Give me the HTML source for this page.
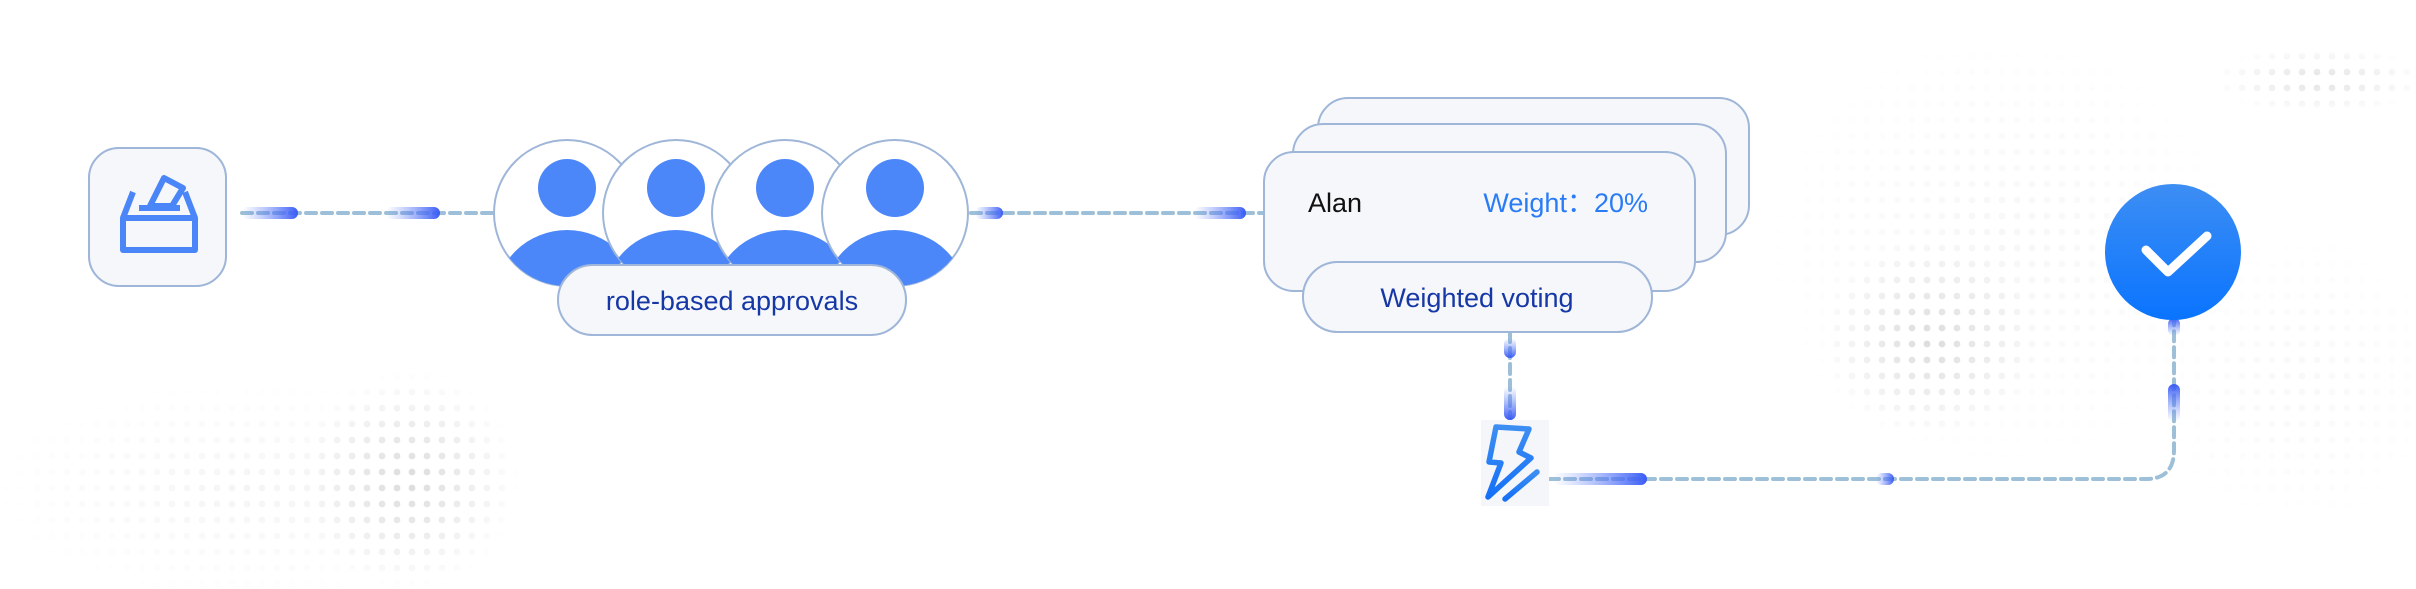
<!DOCTYPE html>
<html><head><meta charset="utf-8"><style>
html,body{margin:0;padding:0;background:#fff;}
svg{display:block}
text{font-family:"Liberation Sans",sans-serif}
</style></head><body>
<svg width="2416" height="589" viewBox="0 0 2416 589" xmlns="http://www.w3.org/2000/svg">
<defs>
<pattern id="dots" width="15" height="16" patternUnits="userSpaceOnUse"><circle cx="7" cy="8" r="3.4" fill="#dcdcdc"/></pattern>
<radialGradient id="fadeA"><stop offset="0" stop-color="#fff" stop-opacity="1"/><stop offset="0.5" stop-color="#fff" stop-opacity="0.5"/><stop offset="1" stop-color="#fff" stop-opacity="0"/></radialGradient>
<mask id="mA"><rect x="0" y="0" width="2416" height="589" fill="#000"/>
<ellipse cx="410" cy="480" rx="110" ry="110" fill="url(#fadeA)"/>
<ellipse cx="250" cy="490" rx="260" ry="110" fill="url(#fadeA)" opacity="0.3"/>
<ellipse cx="1930" cy="340" rx="110" ry="100" fill="url(#fadeA)"/>
<ellipse cx="2000" cy="250" rx="240" ry="220" fill="url(#fadeA)" opacity="0.25"/>
<ellipse cx="2320" cy="80" rx="110" ry="35" fill="url(#fadeA)" opacity="0.8"/>
<ellipse cx="2300" cy="380" rx="150" ry="150" fill="url(#fadeA)" opacity="0.2"/>
</mask>
<linearGradient id="pillR" x1="0" x2="1"><stop offset="0" stop-color="#6d8cf7" stop-opacity="0"/><stop offset="1" stop-color="#3a5cf6"/></linearGradient>
<linearGradient id="pillD" x1="0" x2="0" y1="0" y2="1"><stop offset="0" stop-color="#6d8cf7" stop-opacity="0"/><stop offset="1" stop-color="#3a5cf6"/></linearGradient>
<linearGradient id="pillU" x1="0" x2="0" y1="1" y2="0"><stop offset="0" stop-color="#6d8cf7" stop-opacity="0"/><stop offset="1" stop-color="#3a5cf6"/></linearGradient>
<linearGradient id="chk" x1="0" x2="0" y1="0" y2="1"><stop offset="0" stop-color="#3d8ef3"/><stop offset="1" stop-color="#0a74ff"/></linearGradient>
<linearGradient id="bolt" x1="0" x2="0" y1="0" y2="1"><stop offset="0" stop-color="#3d8ef3"/><stop offset="1" stop-color="#1570f7"/></linearGradient>
<filter id="glow" x="-30%" y="-30%" width="160%" height="170%"><feGaussianBlur in="SourceAlpha" stdDeviation="8"/><feOffset dy="6"/><feFlood flood-color="#5b86ff" flood-opacity="0.35"/><feComposite operator="in" in2="SourceAlpha"/><feMerge><feMergeNode/><feMergeNode in="SourceGraphic"/></feMerge></filter>
<clipPath id="c1"><circle cx="567" cy="213" r="73"/></clipPath>
<clipPath id="c2"><circle cx="676" cy="213" r="73"/></clipPath>
<clipPath id="c3"><circle cx="785" cy="213" r="73"/></clipPath>
<clipPath id="c4"><circle cx="895" cy="213" r="73"/></clipPath>
</defs>

<rect x="0" y="0" width="2416" height="589" fill="url(#dots)" mask="url(#mA)"/>

<!-- connectors -->
<g stroke="#9dc0d8" stroke-width="4" stroke-dasharray="10 6" fill="none" stroke-linecap="round">
<line x1="242" y1="213" x2="493" y2="213"/>
<line x1="971" y1="213" x2="1263" y2="213"/>
<line x1="1510" y1="332" x2="1510" y2="420"/>
<path d="M1549 479 H2146 Q2174 479 2174 450 V318"/>
</g>
<g>
<rect x="242" y="207" width="56" height="12" rx="6" fill="url(#pillR)"/>
<rect x="386" y="207" width="54" height="12" rx="6" fill="url(#pillR)"/>
<rect x="975" y="207" width="28" height="12" rx="6" fill="url(#pillR)"/>
<rect x="1194" y="207" width="52" height="12" rx="6" fill="url(#pillR)"/>
<rect x="1504" y="338" width="12" height="20" rx="6" fill="url(#pillD)"/>
<rect x="1504" y="386" width="12" height="34" rx="6" fill="url(#pillD)"/>
<rect x="1553" y="473" width="94" height="12" rx="6" fill="url(#pillR)"/>
<rect x="1876" y="473" width="18" height="12" rx="6" fill="url(#pillR)"/>
<rect x="2168" y="318" width="12" height="18" rx="6" fill="url(#pillU)"/>
<rect x="2168" y="384" width="12" height="38" rx="6" fill="url(#pillU)"/>
</g>

<!-- ballot box -->
<rect x="89" y="148" width="137" height="138" rx="30" fill="#f5f7fa" stroke="#9fb6d8" stroke-width="2" filter="url(#glow)"/>
<g fill="none" stroke="#4a86f7" stroke-width="6" stroke-linejoin="round">
<rect x="123" y="218" width="72" height="32"/>
<path d="M123 218 L133 192 M195 218 L185 192"/>
<path d="M150 206 L164 178 L183 188 L172 206 Z"/>
<line x1="139" y1="208" x2="180" y2="208"/>
</g>

<!-- people -->
<g>
<circle cx="567" cy="213" r="73" fill="#fff" stroke="#9fb6d8" stroke-width="2"/>
<g clip-path="url(#c1)"><circle cx="567" cy="188" r="29" fill="#4c87fa"/><ellipse cx="567" cy="300" rx="72" ry="70" fill="#4c87fa"/></g>
<circle cx="676" cy="213" r="73" fill="#fff" stroke="#9fb6d8" stroke-width="2"/>
<g clip-path="url(#c2)"><circle cx="676" cy="188" r="29" fill="#4c87fa"/><ellipse cx="676" cy="300" rx="72" ry="70" fill="#4c87fa"/></g>
<circle cx="785" cy="213" r="73" fill="#fff" stroke="#9fb6d8" stroke-width="2"/>
<g clip-path="url(#c3)"><circle cx="785" cy="188" r="29" fill="#4c87fa"/><ellipse cx="785" cy="300" rx="72" ry="70" fill="#4c87fa"/></g>
<circle cx="895" cy="213" r="73" fill="#fff" stroke="#9fb6d8" stroke-width="2"/>
<g clip-path="url(#c4)"><circle cx="895" cy="188" r="29" fill="#4c87fa"/><ellipse cx="895" cy="300" rx="72" ry="70" fill="#4c87fa"/></g>
</g>
<rect x="558" y="265" width="348" height="70" rx="35" fill="#f5f7fa" stroke="#9fb6d8" stroke-width="2" filter="url(#glow)"/>
<text x="732" y="310" font-size="27" fill="#1637a6" text-anchor="middle">role-based approvals</text>

<!-- cards -->
<rect x="1318" y="98" width="431" height="137" rx="30" fill="#f5f7fa" stroke="#9fb6d8" stroke-width="2"/>
<rect x="1293" y="124" width="433" height="138" rx="30" fill="#f5f7fa" stroke="#9fb6d8" stroke-width="2"/>
<rect x="1264" y="152" width="431" height="139" rx="30" fill="#f5f7fa" stroke="#9fb6d8" stroke-width="2"/>
<text x="1308" y="212" font-size="27" fill="#111">Alan</text>
<text x="1648" y="212" font-size="27" fill="#2a7cf6" text-anchor="end">Weight：20%</text>
<rect x="1303" y="262" width="349" height="70" rx="35" fill="#f5f7fa" stroke="#9fb6d8" stroke-width="2" filter="url(#glow)"/>
<text x="1477" y="307" font-size="27" fill="#1637a6" text-anchor="middle">Weighted voting</text>

<!-- lightning -->
<rect x="1481" y="420" width="68" height="86" fill="#f4f6f9"/>
<g fill="none" stroke="url(#bolt)" stroke-width="5.5" stroke-linejoin="round" stroke-linecap="round">
<path d="M1496 427 L1529 429 L1519 452 L1531 458 L1488 497 L1501 463 L1489 462 Z"/>
<line x1="1505" y1="499" x2="1537" y2="472"/>
</g>

<!-- check -->
<circle cx="2173" cy="252" r="68" fill="url(#chk)"/>
<path d="M2146 250 L2168 272 L2207 236" fill="none" stroke="#fff" stroke-width="9" stroke-linecap="round" stroke-linejoin="round"/>
</svg>
</body></html>
